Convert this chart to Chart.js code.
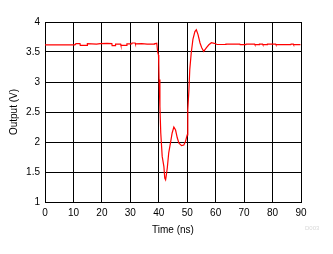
<!DOCTYPE html>
<html>
<head>
<meta charset="utf-8">
<script src="https://cdn.jsdelivr.net/npm/chart.js@4/dist/chart.umd.min.js"></script>
<style>
  html, body { margin: 0; padding: 0; background: #fff; }
  #wrap { width: 333px; height: 254px; position: relative; }
</style>
</head>
<body>
<div id="wrap"><canvas id="chart"></canvas></div>
<script>
// scope trace: time (ns) and output (V)
const timeNs = [
  0, 10.5, 10.9, 12.3, 12.4, 14.8, 14.9, 18.1, 19.4, 21.8, 23.5, 23.6, 24.7, 24.8,
  26.6, 26.7, 28.7, 28.8, 30.5, 30.6, 31.7, 31.8, 34.0, 35.9, 38.4, 38.5, 39.3,
  39.6, 39.9, 40.0, 40.1, 40.4, 40.7, 41.2, 41.8, 42.1, 42.4, 42.6, 43.0, 43.5,
  44.1, 44.7, 45.3, 45.9, 46.5, 47.1, 48.0, 48.8, 49.4, 50.0, 50.2, 50.6, 50.9,
  51.4, 52.0, 52.7, 53.2, 53.8, 54.5, 55.1, 55.8, 56.7, 57.6, 58.5, 59.5, 60.5,
  63.5, 63.6, 68.5, 68.6, 70.6, 70.7, 73.7, 73.8, 75.3, 75.4, 76.5, 76.6, 78.1,
  78.2, 81.1, 81.2, 86.4, 86.5, 87.3, 87.4, 89.8
];
const outputV = [
  3.62, 3.62, 3.638, 3.638, 3.61, 3.61, 3.638, 3.63, 3.638, 3.645, 3.64, 3.605, 3.605, 3.63,
  3.63, 3.61, 3.61, 3.635, 3.635, 3.65, 3.65, 3.635, 3.638, 3.63, 3.63, 3.638, 3.645,
  3.5, 3.45, 3.3, 3.04, 2.59, 2.15, 1.76, 1.59, 1.40, 1.37, 1.43, 1.57, 1.82,
  1.98, 2.15, 2.25, 2.20, 2.07, 1.98, 1.94, 1.95, 2.01, 2.12, 2.54, 2.87, 3.21,
  3.48, 3.71, 3.84, 3.87, 3.79, 3.65, 3.57, 3.51, 3.57, 3.62, 3.655, 3.645, 3.625,
  3.625, 3.632, 3.632, 3.622, 3.622, 3.632, 3.632, 3.622, 3.622, 3.632, 3.632, 3.622, 3.622,
  3.632, 3.632, 3.622, 3.622, 3.632, 3.632, 3.622, 3.622
];
const xTicks = [0, 10, 20, 30, 40, 50, 60, 70, 80, 90];
const yTicks = [1, 1.5, 2, 2.5, 3, 3.5, 4];

const points = timeNs.map((t, i) => ({ x: t, y: outputV[i] }));
const font = { family: 'Arial, "Liberation Sans", sans-serif', size: 10 };

const watermark = {
  id: 'watermark',
  afterDraw(chart) {
    const c = chart.ctx;
    c.save();
    c.fillStyle = '#d8d8d8';
    c.font = '6px "Liberation Sans", sans-serif';
    c.textAlign = 'left';
    c.textBaseline = 'middle';
    c.fillText('D003', 305, 228);
    c.restore();
  }
};

new Chart(document.getElementById('chart'), {
  type: 'line',
  data: {
    datasets: [{
      data: points,
      borderColor: '#ff0000',
      borderWidth: 1.2,
      pointRadius: 0,
      tension: 0,
      fill: false
    }]
  },
  options: {
    responsive: true,
    maintainAspectRatio: false,
    animation: false,
    events: [],
    layout: { padding: { left: 0, top: 22, right: 32, bottom: 18 } },
    plugins: { legend: { display: false }, tooltip: { enabled: false } },
    scales: {
      x: {
        type: 'linear',
        min: 0, max: 90,
        afterBuildTicks: (s) => { s.ticks = xTicks.map(v => ({ value: v })); },
        afterFit: (s) => { s.height = 34; },
        grid: { color: '#000', lineWidth: 1, drawTicks: false },
        border: { color: '#000', width: 1 },
        ticks: { color: '#000', font, padding: 5, maxRotation: 0, callback: (v) => String(v) },
        title: { display: true, text: 'Time (ns)', color: '#000', font, padding: { top: 2, bottom: 0 } }
      },
      y: {
        min: 1, max: 4,
        afterBuildTicks: (s) => { s.ticks = yTicks.map(v => ({ value: v })); },
        afterFit: (s) => { s.width = 45; },
        grid: { color: '#000', lineWidth: 1, drawTicks: false },
        border: { color: '#000', width: 1 },
        ticks: { color: '#000', font, padding: 5, callback: (v) => String(v) },
        title: { display: true, text: 'Output (V)', color: '#000', font, padding: { top: 8, bottom: 0 } }
      }
    }
  },
  plugins: [watermark]
});
</script>
</body>
</html>
